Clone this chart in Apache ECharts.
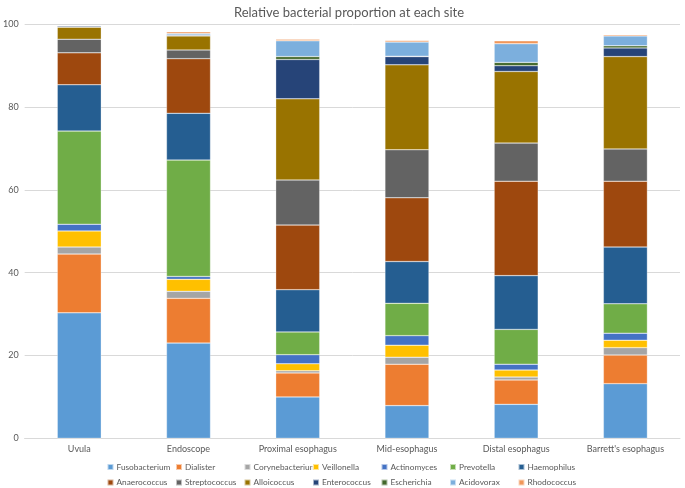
<!DOCTYPE html>
<html><head><meta charset="utf-8">
<script src="https://cdn.jsdelivr.net/npm/echarts@6/dist/echarts.min.js"></script>
<style>html,body{margin:0;padding:0;background:#fff}#c{width:685px;height:488px}</style>
</head><body><div id="c"></div>
<script>
const categories = ["Uvula","Endoscope","Proximal esophagus","Mid-esophagus","Distal esophagus","Barrett's esophagus"];
const seriesNames = ["Fusobacterium","Dialister","Corynebacterium","Veillonella","Actinomyces","Prevotella","Haemophilus","Anaerococcus","Streptococcus","Alloicoccus","Enterococcus","Escherichia","Acidovorax","Rhodococcus"];
const colors = ["#5B9BD5","#ED7D31","#A5A5A5","#FFC000","#4472C4","#70AD47","#255E91","#9E480E","#636363","#997300","#264478","#43682B","#7CAFDD","#F1975A"];
const fusobacterium   = [30.3, 23.0, 10.0, 7.9, 8.2, 13.2];
const dialister       = [14.2, 10.8, 5.8, 10.0, 5.9, 6.9];
const corynebacterium = [1.7, 1.7, 0.5, 1.7, 0.7, 1.8];
const veillonella     = [3.9, 2.9, 1.7, 2.9, 1.7, 1.8];
const actinomyces     = [1.6, 0.7, 2.2, 2.3, 1.4, 1.7];
const prevotella      = [22.5, 28.1, 5.5, 7.8, 8.4, 7.1];
const haemophilus     = [11.2, 11.3, 10.2, 10.1, 13.0, 13.7];
const anaerococcus    = [7.7, 13.2, 15.6, 15.4, 22.8, 15.9];
const streptococcus   = [3.3, 2.1, 10.9, 11.6, 9.2, 7.8];
const alloicoccus     = [2.9, 3.4, 19.6, 20.5, 17.3, 22.3];
const enterococcus    = [0.3, 0.2, 9.5, 2.0, 1.4, 2.1];
const escherichia     = [0.0, 0.0, 0.7, 0.1, 0.8, 0.5];
const acidovorax      = [0.1, 0.4, 3.8, 3.4, 4.5, 2.4];
const rhodococcus     = [0.0, 0.4, 0.4, 0.4, 0.7, 0.3];
const yTicks = [0, 20, 40, 60, 80, 100];
const values = [fusobacterium, dialister, corynebacterium, veillonella, actinomyces, prevotella, haemophilus, anaerococcus, streptococcus, alloicoccus, enterococcus, escherichia, acidovorax, rhodococcus];

const FONT = "Lato";
const legends = [];
for (let c = 0; c < 7; c++) {
  legends.push({
    orient:'vertical', left:106.5 + 68.5*c, top:462, height:26, padding:0,
    itemWidth:6, itemHeight:6, itemGap:5.5, icon:'rect',
    textStyle:{fontFamily:FONT, fontSize:8.3, color:'#595959', lineHeight:10, padding:[0,0,0,-2]},
    data:[seriesNames[c], seriesNames[c+7]]
  });
}
const chart = echarts.init(document.getElementById('c'), null, {renderer:'canvas'});
chart.setOption({
  animation:false,
  color: colors,
  title:{text:"Relative bacterial proportion at each site", left:344, textAlign:'center', top:1,
    textStyle:{fontFamily:FONT, fontSize:13, fontWeight:'normal', color:'#595959'}},
  grid:{left:21, right:5, top:24.3, bottom:49.7},
  legend: legends,
  xAxis:{type:'category', data:categories,
    axisLine:{lineStyle:{color:'#D9D9D9'}}, axisTick:{show:false},
    axisLabel:{fontFamily:FONT, fontSize:9, color:'#595959', margin:6}},
  yAxis:{type:'value', min:yTicks[0], max:yTicks[yTicks.length-1], interval:20,
    axisLine:{show:false}, axisTick:{show:false},
    splitLine:{lineStyle:{color:'#D9D9D9'}},
    axisLabel:{fontFamily:FONT, fontSize:9, color:'#595959', margin:6}},
  series: seriesNames.map((n,i)=>({
    name:n, type:'bar', stack:'total', barWidth:44, data:values[i],
    itemStyle:{borderColor:'rgba(255,255,255,0.6)', borderWidth:0.5}
  }))
});
</script></body></html>
